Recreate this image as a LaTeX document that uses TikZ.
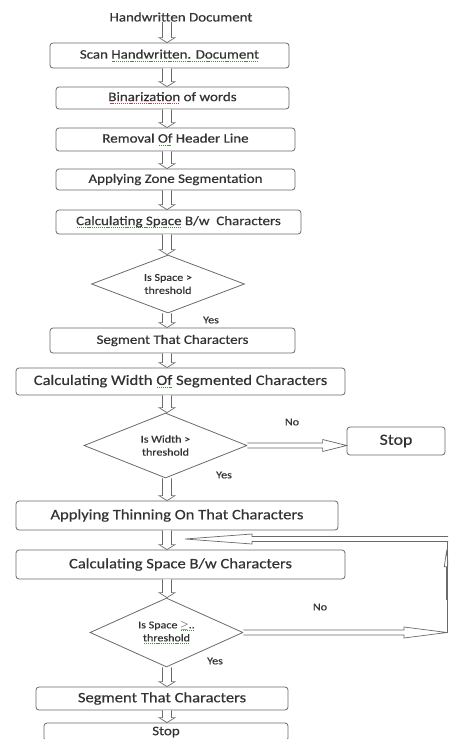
\documentclass[tikz,border=0pt]{standalone}
\usepackage{fontspec}
\setmainfont[FakeStretch=1.15,FakeBold=0.4]{Carlito}
\usetikzlibrary{shapes.geometric,arrows.meta,calc}
\definecolor{ln}{HTML}{6A6A6A}
\definecolor{tx}{HTML}{333333}
\definecolor{sqg}{HTML}{4F8A3C}
\definecolor{sqr}{HTML}{C04050}
\newcommand\squl[2]{\leavevmode\setbox0\hbox{#2}\rlap{\hbox to \wd0{\color{#1}\cleaders\hbox{\kern0.4pt\rule[-0.45ex]{1.1pt}{0.6pt}\kern0.4pt}\hfill}}\box0\relax}
\newcommand\gul[1]{\squl{sqg}{#1}}
\newcommand\rul[1]{\squl{sqr}{#1}}
\newcommand\fA{\fontsize{13}{15}\selectfont}
\newcommand\fB{\fontsize{14.4}{16}\selectfont}
\newcommand\fS{\fontsize{10.5}{13}\selectfont}
% hollow arrow: #1 start, #2 tip, #3 head length, #4 shaft half width, #5 head half width
\newcommand\harr[5]{%
  \coordinate (hS) at (#1); \coordinate (hT) at (#2);
  \coordinate (hC) at ($(hT)!#3!(hS)$);
  \draw[holl] ($(hS)!#4!90:(hT)$) -- ($(hC)!#4!-90:(hS)$) -- ($(hC)!#5!-90:(hS)$) -- (hT)
     -- ($(hC)!#5!90:(hS)$) -- ($(hC)!#4!90:(hS)$) -- ($(hS)!#4!-90:(hT)$);}
\newcommand\varr[2]{\harr{#1.south -| ax}{#2.north -| ax}{5pt}{4.5pt}{8pt}}
\begin{document}
\begin{tikzpicture}[x=1pt,y=-1pt,
  box/.style={draw=ln, line width=0.8pt, rounded corners=3pt, fill=white, text=tx, inner sep=0pt},
  dia/.style={draw=ln, line width=0.8pt, diamond, aspect=2.6, inner sep=0pt, text=tx, align=center, font=\fS},
  lbl/.style={text=tx, font=\fS, inner sep=0pt},
  holl/.style={draw=ln, line width=0.7pt, fill=white}]
\useasboundingbox (0,0) rectangle (448,739);
\clip (0,0) rectangle (448,739);
\fill[white] (0,0) rectangle (448,739);
\coordinate (ax) at (167,0);
\coordinate (rx) at (447,0);

\node[text=tx, font=\fA, inner sep=0pt] (t) at (181,17) {Handwritten Document};
\node[box, minimum width=239pt, minimum height=25pt, font=\fA] (b1) at (169.5,55.5) {Scan \gul{Handwritten. Document}};
\node[box, minimum width=233pt, minimum height=22pt, font=\fA] (b2) at (172.5,98) {\rul{Binarization} of words};
\node[box, minimum width=239pt, minimum height=23pt, font=\fA] (b3) at (175.5,139.5) {Removal \gul{Of} Header Line};
\node[box, minimum width=239pt, minimum height=21pt, font=\fA] (b4) at (175.5,179.5) {Applying Zone Segmentation};
\node[box, minimum width=245pt, minimum height=24pt, font=\fA] (b5) at (178.5,222) {\gul{Calculating Space} B/w \ Characters};
\node[dia, minimum width=153pt, minimum height=58pt] (d1) at (168,284) {Is Space >\\threshold};
\node[box, minimum width=245pt, minimum height=25pt, font=\fA] (b6) at (172.5,340.5) {Segment That Characters};
\node[box, minimum width=329pt, minimum height=27pt, font=\fB] (b7) at (180.5,381.5) {Calculating Width \gul{Of} Segmented Characters};
\node[dia, minimum width=163pt, minimum height=65pt] (d2) at (165.5,445.5) {Is Width >\\threshold};
\node[box, minimum width=98pt, minimum height=28pt, font=\fontsize{15.5}{17}\selectfont] (s1) at (396,441) {Stop};
\node[box, minimum width=322pt, minimum height=29pt, font=\fB] (b8) at (177,515.5) {Applying Thinning On That Characters};
\node[box, minimum width=329pt, minimum height=29pt, font=\fB] (b9) at (180.5,564.5) {Calculating Space B/w Characters};
\node[dia, minimum width=153pt, minimum height=69pt] (d3) at (166.5,632.5) {Is Space \gul{$\geq$..}\\\gul{threshold}};
\node[box, minimum width=252pt, minimum height=23pt, font=\fB] (b10) at (162,698.5) {Segment That Characters};
\node[box, minimum width=244pt, minimum height=18pt, font=\fA] (b11) at (166,732) {Stop};

\node[lbl] (y1) at (211,320) {Yes};
\node[lbl] (n1) at (292,422) {No};
\node[lbl] (y2) at (224,475) {Yes};
\node[lbl] (n2) at (320,607) {No};
\node[lbl] (y3) at (215,661) {Yes};

\harr{t.south -| ax}{b1.north -| ax}{5pt}{4.5pt}{8pt}
\varr{b1}{b2}
\varr{b2}{b3}
\varr{b3}{b4}
\varr{b4}{b5}
\varr{b5}{d1}
\varr{d1}{b6}
\varr{b6}{b7}
\varr{b7}{d2}
\varr{d2}{b8}
\varr{b8}{b9}
\varr{b9}{d3}
\varr{d3}{b10}
\varr{b10}{b11}

% No -> Stop
\harr{d2.east}{s1.west |- d2.east}{24pt}{2.5pt}{6pt}
% feedback loop
\coordinate (fA) at (rx |- d3.east);
\coordinate (fB) at (447,539);
\coordinate (fC) at (449,539);
\coordinate (fD) at (185,539);
\coordinate (fU) at (446.5,549);
\coordinate (fL) at (446.5,600);
\draw[ln, line width=0.8pt] (fA) -- (fB);
\draw[ln, line width=0.7pt, -{Triangle[open,length=18pt,width=5pt]}] (fL) -- (fU);
\harr{d3.east}{fA}{43pt}{2.5pt}{5.5pt}
\harr{fC}{fD}{67pt}{2.5pt}{5pt}
\end{tikzpicture}
\end{document}
